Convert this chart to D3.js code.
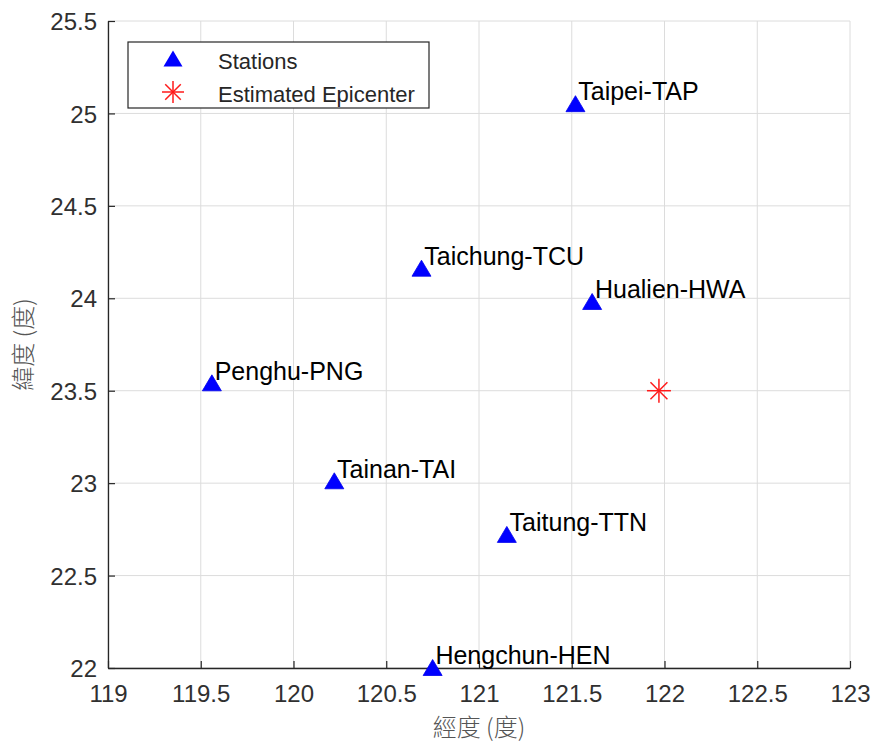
<!DOCTYPE html>
<html>
<head>
<meta charset="utf-8">
<script src="https://cdn.jsdelivr.net/npm/d3@7"></script>
<style>
  html, body { margin: 0; padding: 0; background: #fff; }
  svg { display: block; }
</style>
</head>
<body>
<svg id="chart" width="875" height="751"></svg>
<script>
// Seismic stations in Taiwan and the estimated epicenter (longitude / latitude, degrees)
const stationNames = ["Taipei-TAP", "Taichung-TCU", "Hualien-HWA", "Penghu-PNG", "Tainan-TAI", "Taitung-TTN", "Hengchun-HEN"];
const stationLon   = [121.52, 120.69, 121.61, 119.56, 120.22, 121.15, 120.75];
const stationLat   = [25.05, 24.16, 23.98, 23.54, 23.01, 22.72, 22.00];

const epicenterLon = [121.97];
const epicenterLat = [23.50];

const xTicks = [119, 119.5, 120, 120.5, 121, 121.5, 122, 122.5, 123];
const yTicks = [22, 22.5, 23, 23.5, 24, 24.5, 25, 25.5];
const xDomain = [119, 123];
const yDomain = [22, 25.5];

const legendLabels = ["Stations", "Estimated Epicenter"];
const xLabel = "經度 (度)";
const yLabel = "緯度 (度)";

const svg = d3.select("#chart");
const margin = { left: 108, right: 25, top: 21, bottom: 83 };
const W = 875, H = 751;
const x = d3.scaleLinear().domain(xDomain).range([margin.left, W - margin.right]);
const y = d3.scaleLinear().domain(yDomain).range([H - margin.bottom, margin.top]);

const axisColor = "#262626";
const gridColor = "#dcdcdc";
const tickFont = "'Liberation Sans', Arial, sans-serif";

// grid
const grid = svg.append("g");
grid.selectAll("line.vx").data(xTicks).join("line")
  .attr("x1", d => x(d)).attr("x2", d => x(d))
  .attr("y1", y(yDomain[0])).attr("y2", y(yDomain[1]))
  .attr("stroke", gridColor).attr("stroke-width", 1);
grid.selectAll("line.hy").data(yTicks).join("line")
  .attr("y1", d => y(d)).attr("y2", d => y(d))
  .attr("x1", x(xDomain[0])).attr("x2", x(xDomain[1]))
  .attr("stroke", gridColor).attr("stroke-width", 1);

// axes (ticks pointing inward)
const xAxis = d3.axisBottom(x).tickValues(xTicks).tickFormat(d3.format("")).tickSizeInner(-7).tickSizeOuter(0).tickPadding(17);
const yAxis = d3.axisLeft(y).tickValues(yTicks).tickFormat(d3.format("")).tickSizeInner(-7).tickSizeOuter(0).tickPadding(11);

const gx = svg.append("g").attr("transform", `translate(0,${y(yDomain[0])})`).call(xAxis);
const gy = svg.append("g").attr("transform", `translate(${x(xDomain[0])},0)`).call(yAxis);
[gx, gy].forEach(g => {
  g.select(".domain").attr("stroke", axisColor).attr("stroke-width", 1.3);
  g.selectAll(".tick line").attr("stroke", axisColor).attr("stroke-width", 1.2);
  g.selectAll(".tick text").attr("fill", "#303030")
    .style("font-family", tickFont).style("font-size", "24px");
});
gy.selectAll(".tick text").attr("dy", "0.36em");

// axis titles
svg.append("text")
  .attr("x", (x(xDomain[0]) + x(xDomain[1])) / 2).attr("y", 736)
  .attr("text-anchor", "middle")
  .attr("fill", "#555")
  .style("font-family", "'Noto Sans CJK TC', sans-serif")
  .style("font-size", "24px").style("font-weight", 300)
  .text(xLabel);
svg.append("text")
  .attr("transform", `translate(32,${(y(yDomain[0]) + y(yDomain[1])) / 2}) rotate(-90)`)
  .attr("text-anchor", "middle")
  .attr("fill", "#555")
  .style("font-family", "'Noto Sans CJK TC', sans-serif")
  .style("font-size", "24px").style("font-weight", 300)
  .text(yLabel);

// marker shapes
const triPath = "M0,-8.5L9.5,7.5L-9.5,7.5Z";
function drawStar(g, r) {
  const angles = [0, 45, 90, 135];
  angles.forEach(a => {
    const rad = a * Math.PI / 180;
    g.append("line")
      .attr("x1", -r * Math.cos(rad)).attr("y1", -r * Math.sin(rad))
      .attr("x2", r * Math.cos(rad)).attr("y2", r * Math.sin(rad))
      .attr("stroke", "#ff1a1a").attr("stroke-width", 1.5);
  });
}

// stations
const stations = stationNames.map((n, i) => ({ name: n, lon: stationLon[i], lat: stationLat[i] }));
svg.append("g").selectAll("path").data(stations).join("path")
  .attr("d", triPath)
  .attr("transform", d => `translate(${x(d.lon)},${y(d.lat)})`)
  .attr("fill", "#0000ff").attr("stroke", "#0000ee").attr("stroke-width", 0.8);

svg.append("g").selectAll("text").data(stations).join("text")
  .attr("x", d => x(d.lon + 0.015))
  .attr("y", d => y(d.lat + 0.02))
  .attr("fill", "#000")
  .style("font-family", tickFont).style("font-size", "25px")
  .text(d => d.name);

// epicenter
epicenterLon.forEach((lon, i) => {
  const g = svg.append("g").attr("transform", `translate(${x(lon)},${y(epicenterLat[i])})`);
  drawStar(g, 12);
});

// legend
const lg = svg.append("g");
lg.append("rect").attr("x", 128).attr("y", 42).attr("width", 301).attr("height", 66)
  .attr("fill", "#fff").attr("stroke", axisColor).attr("stroke-width", 1.2);
lg.append("path").attr("d", triPath).attr("transform", "translate(173,59)").attr("fill", "#0000ff");
drawStar(lg.append("g").attr("transform", "translate(173,92)"), 11);
legendLabels.forEach((t, i) => {
  lg.append("text").attr("x", 218).attr("y", 61 + i * 33).attr("dy", "0.36em")
    .attr("fill", axisColor)
    .style("font-family", tickFont).style("font-size", "22px")
    .text(t);
});
</script>
</body>
</html>
